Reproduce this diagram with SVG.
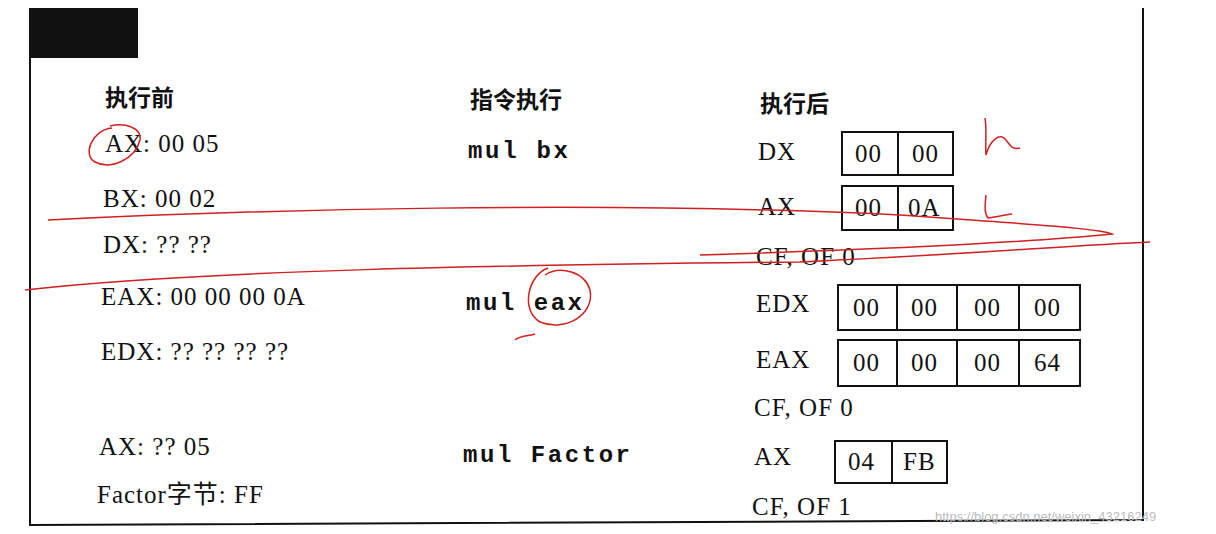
<svg xmlns="http://www.w3.org/2000/svg" width="1216" height="534" viewBox="0 0 1216 534">
<style>
.t{font-family:"Liberation Serif","Noto Sans CJK SC",serif;font-size:25px;letter-spacing:1px;fill:#111}
.h{font-family:"Noto Sans CJK SC",sans-serif;font-size:23px;font-weight:bold;fill:#111}
.m{font-family:"Liberation Mono",monospace;font-size:24px;font-weight:bold;fill:#111}
.b{fill:none;stroke:#111;stroke-width:2}
.r{fill:none;stroke:#d02020;stroke-width:1.5}
</style>
<rect width="1216" height="534" fill="#fff"/>
<path d="M30 8 V525 L1143 520 V8" class="b"/>
<rect x="30" y="8" width="108" height="50" fill="#111"/>
<g id="before">
<text class="h" x="105" y="106">执行前</text>
<text class="t" x="105" y="152">AX: 00 05</text>
<text class="t" x="103" y="207">BX: 00 02</text>
<text class="t" x="103" y="253">DX: ?? ??</text>
<text class="t" x="101" y="305">EAX: 00 00 00 0A</text>
<text class="t" x="101" y="360">EDX: ?? ?? ?? ??</text>
<text class="t" x="99" y="455">AX: ?? 05</text>
<text class="t" x="97" y="503">Factor字节: FF</text>
</g>
<g id="instr">
<text class="h" x="470" y="108">指令执行</text>
<text class="m" x="468" y="158" textLength="100">mul bx</text>
<text class="m" x="466" y="310" textLength="116">mul eax</text>
<text class="m" x="463" y="462" textLength="167">mul Factor</text>
</g>
<g id="after">
<text class="h" x="760" y="112">执行后</text>
<text class="t" x="758" y="160">DX</text>
<rect class="b" x="842" y="132" width="56" height="43"/><rect class="b" x="898" y="132" width="55" height="43"/>
<text class="t" x="855" y="162">00</text><text class="t" x="912" y="162">00</text>
<text class="t" x="758" y="215">AX</text>
<rect class="b" x="842" y="186" width="56" height="44"/><rect class="b" x="898" y="186" width="55" height="44"/>
<text class="t" x="855" y="216">00</text><text class="t" x="908" y="216">0A</text>
<text class="t" x="756" y="265">CF, OF 0</text>
<text class="t" x="756" y="312">EDX</text>
<rect class="b" x="838" y="285" width="59" height="45"/><rect class="b" x="897" y="285" width="60" height="45"/><rect class="b" x="957" y="285" width="62" height="45"/><rect class="b" x="1019" y="285" width="61" height="45"/>
<text class="t" x="853" y="316">00</text><text class="t" x="911" y="316">00</text><text class="t" x="974" y="316">00</text><text class="t" x="1034" y="316">00</text>
<text class="t" x="756" y="368">EAX</text>
<rect class="b" x="838" y="340" width="59" height="46"/><rect class="b" x="897" y="340" width="60" height="46"/><rect class="b" x="957" y="340" width="62" height="46"/><rect class="b" x="1019" y="340" width="61" height="46"/>
<text class="t" x="853" y="371">00</text><text class="t" x="911" y="371">00</text><text class="t" x="974" y="371">00</text><text class="t" x="1034" y="371">64</text>
<text class="t" x="754" y="416">CF, OF 0</text>
<text class="t" x="754" y="465">AX</text>
<rect class="b" x="835" y="441" width="57" height="42"/><rect class="b" x="892" y="441" width="55" height="42"/>
<text class="t" x="848" y="470">04</text><text class="t" x="903" y="470">FB</text>
<text class="t" x="752" y="515">CF, OF 1</text>
</g>
<g id="handwriting">
<path class="r" d="M112 128 C92 130 82 155 95 162 C110 170 135 160 140 140 C142 128 125 122 110 126"/>
<path class="r" d="M48 220 C250 210 600 200 900 215 C1000 222 1100 228 1112 234 C1000 245 800 252 700 255"/>
<path class="r" d="M25 290 C200 270 500 265 800 262 C950 255 1080 245 1150 242"/>
<path class="r" d="M548 268 C528 275 520 310 540 322 C565 332 595 315 590 290 C585 272 560 265 545 275 M515 340 C520 335 530 336 535 334"/>
<path class="r" d="M985 118 C987 130 985 145 986 155 C990 140 1000 132 1006 140 C1010 145 1012 150 1020 148"/>
<path class="r" d="M986 195 C985 205 984 213 988 218 C995 217 1005 215 1012 214"/>
</g>
<text x="935" y="521" font-family="Liberation Sans,sans-serif" font-size="13" fill="#bbb">https://blog.csdn.net/weixin_43216249</text>
</svg>
